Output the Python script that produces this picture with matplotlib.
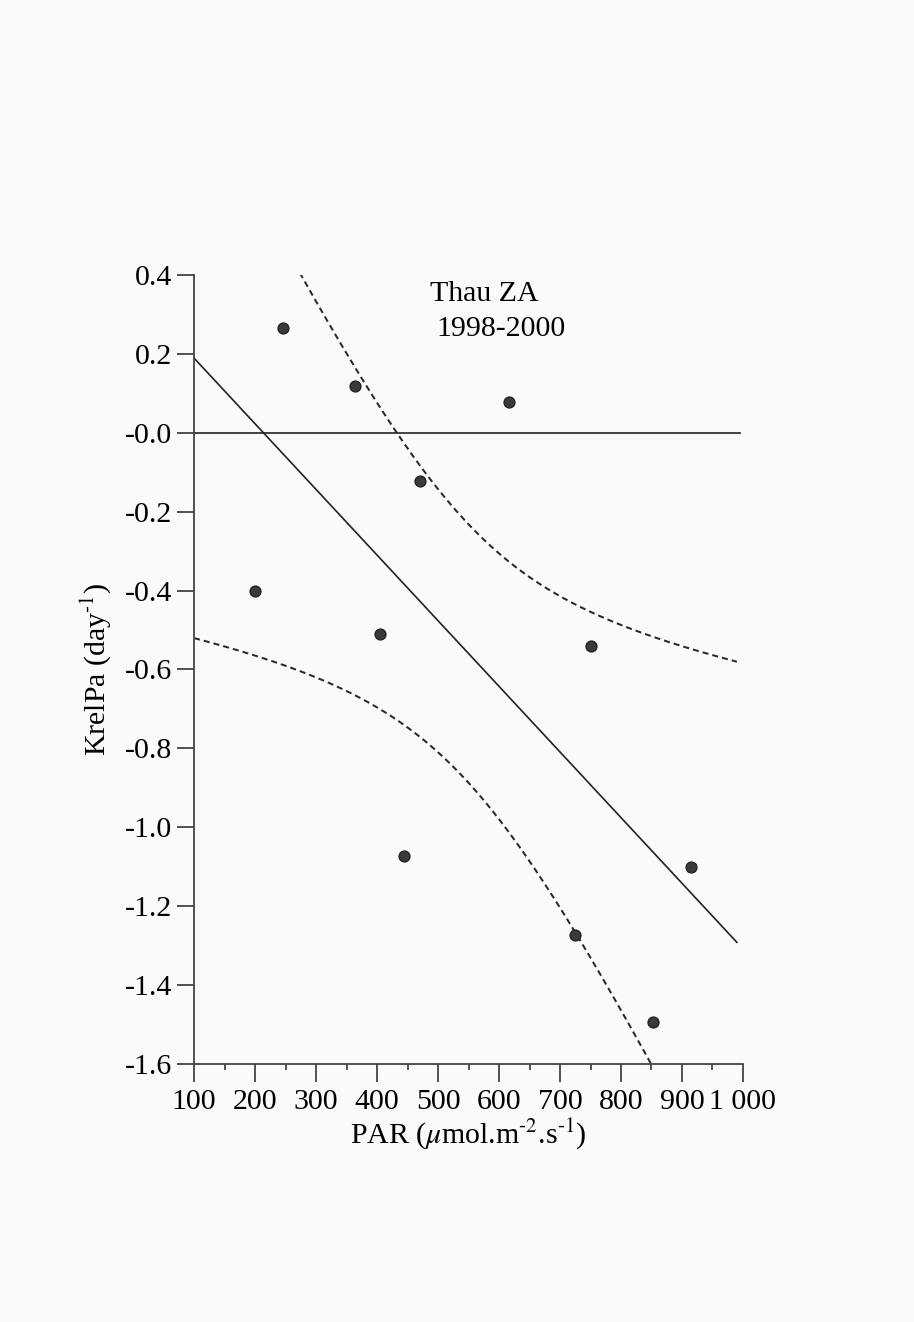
import numpy as np
import matplotlib
matplotlib.use("Agg")
import matplotlib.pyplot as plt

plt.rcParams['font.family'] = ['Liberation Serif', 'DejaVu Serif']
plt.rcParams['mathtext.fontset'] = 'stix'

# KrelPa vs PAR, Thau ZA 1998-2000
par = np.array([200, 246, 364, 405, 444, 470, 616, 725, 751, 852, 915])
krel = np.array([-0.402, 0.266, 0.118, -0.511, -1.072, -0.121, 0.078, -1.273, -0.541, -1.494, -1.100])

xticks = [100, 200, 300, 400, 500, 600, 700, 800, 900, 1000]
xticklabels = ['100', '200', '300', '400', '500', '600', '700', '800', '900', '1 000']
yticks = [0.4, 0.2, 0.0, -0.2, -0.4, -0.6, -0.8, -1.0, -1.2, -1.4, -1.6]
yticklabels = ['0.4', '0.2', '-0.0', '-0.2', '-0.4', '-0.6', '-0.8', '-1.0', '-1.2', '-1.4', '-1.6']

# linear fit + 95% confidence band of the mean
n = len(par)
slope, icpt = np.polyfit(par, krel, 1)
resid = krel - (icpt + slope * par)
s = np.sqrt(np.sum(resid**2) / (n - 2))
sxx = np.sum((par - par.mean())**2)
t975 = 2.262  # t(0.975, 9 df)
xf = np.linspace(100, 990, 300)
yf = icpt + slope * xf
half = t975 * s * np.sqrt(1.0 / n + (xf - par.mean())**2 / sxx)

fs = 21.5
fig = plt.figure(figsize=(9.14, 13.22), dpi=100, facecolor='#fafafa')
ax = fig.add_axes([0.2123, 0.1952, 0.6006, 0.5968])
ax.set_facecolor('#fafafa')

ax.axhline(0, xmin=0, xmax=(995 - 100) / 900, color='#333333', lw=1.3)
ax.plot(xf, yf, color='#222222', lw=1.2)
ax.plot(xf, yf + half, color='#2a2a2a', lw=1.45, ls=(0, (3.0, 2.0)))
ax.plot(xf, yf - half, color='#2a2a2a', lw=1.45, ls=(0, (3.0, 2.0)))
ax.plot(par, krel, 'o', color='#3a3a3a', markersize=7.8, mec='#222222')

ax.set_xlim(100, 1000)
ax.set_ylim(-1.6, 0.4)
for sp in ['top', 'right']:
    ax.spines[sp].set_visible(False)
for sp in ['left', 'bottom']:
    ax.spines[sp].set_color('#444444')
    ax.spines[sp].set_linewidth(1.3)

ax.set_xticks(xticks)
ax.set_xticklabels(xticklabels)
ax.set_xticks(np.arange(150, 1000, 100), minor=True)
ax.set_yticks(yticks)
ax.set_yticklabels(yticklabels)
ax.tick_params(axis='x', which='major', length=13, width=1.3, color='#444444', labelsize=fs, pad=5)
ax.tick_params(axis='x', which='minor', length=4.5, width=1.3, color='#444444')
ax.tick_params(axis='y', which='major', length=12, width=1.3, color='#444444', labelsize=fs, pad=4)

ax.set_xlabel(r'PAR ($\mu$mol.m$^{\text{-2}}$.s$^{\text{-1}}$)', fontsize=fs, labelpad=1)
ax.set_ylabel(r'KrelPa (day$^{\text{-1}}$)', fontsize=fs, labelpad=8)

ax.text(487, 0.385, 'Thau ZA', fontsize=fs, va='top', ha='left')
ax.text(498, 0.295, '1998-2000', fontsize=fs, va='top', ha='left')

fig.savefig('out.png', dpi=100, facecolor=fig.get_facecolor())
